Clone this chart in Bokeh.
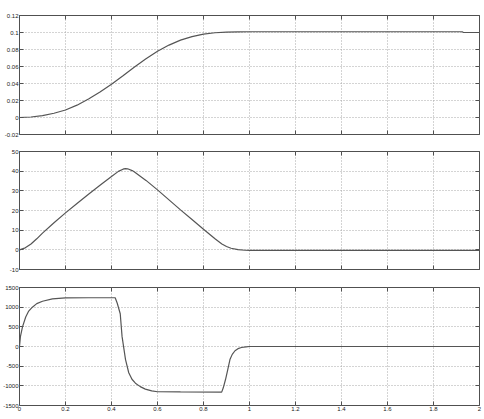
from bokeh.plotting import figure
from bokeh.models import FixedTicker, LinearAxis, Range1d
from bokeh.layouts import column
from bokeh.embed import file_html
from bokeh.resources import INLINE

# ---------------- data ----------------
x_ticks = [0, 0.2, 0.4, 0.6, 0.8, 1, 1.2, 1.4, 1.6, 1.8, 2]
x_labels = ["0", "0.2", "0.4", "0.6", "0.8", "1", "1.2", "1.4", "1.6", "1.8", "2"]

y1_ticks = [-0.02, 0, 0.02, 0.04, 0.06, 0.08, 0.1, 0.12]
y1_labels = ["-0.02", "0", "0.02", "0.04", "0.06", "0.08", "0.1", "0.12"]
y2_ticks = [-10, 0, 10, 20, 30, 40, 50]
y2_labels = ["-10", "0", "10", "20", "30", "40", "50"]
y3_ticks = [-1500, -1000, -500, 0, 500, 1000, 1500]
y3_labels = ["-1500", "-1000", "-500", "0", "500", "1000", "1500"]

t_pos = [0, 0.05, 0.1, 0.15, 0.2, 0.25, 0.3, 0.35, 0.4, 0.45, 0.5, 0.55, 0.6,
         0.65, 0.7, 0.75, 0.8, 0.85, 0.9, 0.95, 1.0, 1.925, 1.93, 2.0]
pos = [0, 0.0006, 0.0023, 0.0050, 0.0088, 0.0145, 0.0218, 0.0300, 0.0392,
       0.0492, 0.0595, 0.0690, 0.0780, 0.0852, 0.0910, 0.0952, 0.0980, 0.0997,
       0.1005, 0.1008, 0.1009, 0.1009, 0.1000, 0.1000]

t_vel = [0, 0.025, 0.05, 0.075, 0.1, 0.15, 0.2, 0.25, 0.3, 0.35, 0.4, 0.43,
         0.45, 0.46, 0.47, 0.49, 0.5, 0.55, 0.6, 0.65, 0.7, 0.75, 0.8, 0.85,
         0.88, 0.9, 0.92, 0.95, 0.98, 1.0, 2.0]
vel = [0, 1.0, 3.0, 5.6, 8.5, 13.8, 18.8, 23.6, 28.3, 32.8, 37.3, 39.9,
       41.0, 41.3, 41.2, 40.3, 39.6, 35.3, 30.5, 25.4, 20.3, 15.4, 10.5, 5.6,
       3.0, 1.7, 0.8, 0.1, -0.2, -0.3, -0.3]

t_acc = [0, 0.004, 0.013, 0.027, 0.04, 0.056, 0.075, 0.1, 0.143, 0.2, 0.3,
         0.416, 0.425, 0.438, 0.446, 0.461, 0.475, 0.489, 0.504, 0.525, 0.547,
         0.575, 0.6, 0.7, 0.879, 0.886, 0.896, 0.905, 0.915, 0.925, 0.937,
         0.95, 0.965, 0.985, 1.0, 2.0]
acc = [0, 250, 500, 750, 900, 1000, 1090, 1150, 1210, 1235, 1240,
       1240, 1100, 833, 250, -333, -667, -833, -933, -1020, -1083,
       -1130, -1150, -1155, -1160, -1050, -833, -600, -333, -200, -108,
       -55, -25, -8, 0, 0]

# ---------------- styling ----------------
FONT = "Liberation Sans"
FRAME = "#505050"
LINE = "#555555"
GRID = "#a8a8a8"
W = 484
LEFT = 18
RIGHT = 5


def style_axis(ax, ticks, labels=None):
    ax.ticker = FixedTicker(ticks=ticks)
    ax.major_tick_in = 4
    ax.major_tick_out = 0
    ax.minor_tick_line_color = None
    ax.axis_line_color = None
    ax.major_tick_line_color = FRAME
    ax.major_tick_line_width = 1
    if labels is not None:
        ax.major_label_text_font = FONT
        ax.major_label_text_font_size = "6px"
        ax.major_label_text_color = "#222222"
        ax.major_label_standoff = 1
        ax.major_label_overrides = dict(zip(ticks, labels))
    else:
        ax.major_label_overrides = {t: "" for t in ticks}
        ax.major_label_text_font_size = "0px"
        ax.major_label_text_color = None
        ax.major_label_standoff = 0


def make_panel(ts, ys, y_rng, yt, yl, height, b_top, b_bottom, show_x):
    p = figure(width=W, height=height,
               x_range=Range1d(0, 2), y_range=Range1d(*y_rng),
               output_backend="svg", toolbar_location=None,
               min_border_left=LEFT, min_border_right=RIGHT,
               min_border_top=b_top, min_border_bottom=b_bottom)
    p.background_fill_color = "white"
    p.border_fill_color = "white"
    p.outline_line_color = FRAME
    p.outline_line_width = 1

    style_axis(p.xaxis[0], x_ticks, x_labels if show_x else None)
    style_axis(p.yaxis[0], yt, yl)

    top = LinearAxis()
    style_axis(top, x_ticks)
    p.add_layout(top, "above")
    right = LinearAxis()
    style_axis(right, yt)
    p.add_layout(right, "right")

    p.xgrid.grid_line_color = GRID
    p.xgrid.grid_line_dash = "1 2"
    p.ygrid.grid_line_color = GRID
    p.ygrid.grid_line_dash = "1 2"

    p.line(ts, ys, line_color=LINE, line_width=1.2)
    return p


p1 = make_panel(t_pos, pos, (-0.02, 0.12), y1_ticks, y1_labels, 142, 15, 8, False)
p2 = make_panel(t_vel, vel, (-10, 50), y2_ticks, y2_labels, 136, 9, 9, False)
p3 = make_panel(t_acc, acc, (-1500, 1500), y3_ticks, y3_labels, 140, 9, 13, True)

layout = column(p1, p2, p3)
open("out.html", "w").write(file_html(layout, INLINE))
